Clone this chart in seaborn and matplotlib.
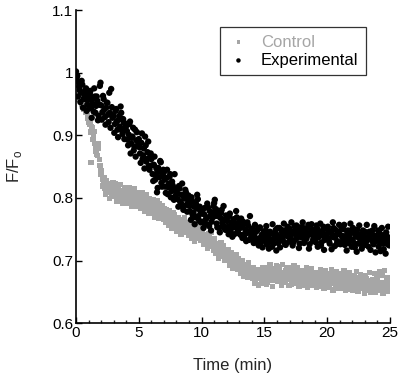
import numpy as np
import pandas as pd
import matplotlib
matplotlib.use("Agg")
import matplotlib.pyplot as plt
import seaborn as sns

# sampling times (min): two interleaved sets of readings
time_a = np.round(np.arange(0, 251) * 0.1, 2)
time_b = np.round(np.arange(0, 250) * 0.1 + 0.05, 2)

control_a = [
    0.985, 0.978, 0.969, 0.962, 0.971, 0.955, 0.948, 0.951, 0.939, 0.932,
    0.925, 0.918, 0.857, 0.912, 0.899, 0.887, 0.874, 0.868, 0.879, 0.852,
    0.838, 0.829, 0.822, 0.815, 0.826, 0.809, 0.818, 0.823, 0.811, 0.804,
    0.815, 0.808, 0.819, 0.801, 0.812, 0.806, 0.797, 0.811, 0.803, 0.814,
    0.808, 0.799, 0.806, 0.792, 0.803, 0.811, 0.796, 0.801, 0.789, 0.805,
    0.795, 0.801, 0.787, 0.798, 0.784, 0.792, 0.805, 0.786, 0.779, 0.794,
    0.791, 0.783, 0.776, 0.789, 0.781, 0.772, 0.786, 0.779, 0.771, 0.782,
    0.776, 0.768, 0.781, 0.764, 0.772, 0.759, 0.769, 0.763, 0.774, 0.757,
    0.765, 0.758, 0.753, 0.766, 0.749, 0.758, 0.762, 0.745, 0.755, 0.751,
    0.756, 0.748, 0.741, 0.752, 0.745, 0.738, 0.749, 0.743, 0.736, 0.747,
    0.744, 0.737, 0.729, 0.741, 0.733, 0.725, 0.738, 0.731, 0.722, 0.734,
    0.729, 0.721, 0.716, 0.727, 0.713, 0.722, 0.709, 0.718, 0.712, 0.705,
    0.714, 0.706, 0.699, 0.709, 0.702, 0.695, 0.703, 0.697, 0.691, 0.699,
    0.696, 0.688, 0.693, 0.684, 0.689, 0.681, 0.692, 0.678, 0.686, 0.681,
    0.685, 0.677, 0.682, 0.674, 0.679, 0.686, 0.671, 0.678, 0.668, 0.676,
    0.672, 0.679, 0.666, 0.674, 0.683, 0.686, 0.675, 0.681, 0.669, 0.684,
    0.678, 0.671, 0.685, 0.676, 0.668, 0.681, 0.674, 0.683, 0.670, 0.677,
    0.682, 0.673, 0.668, 0.679, 0.675, 0.684, 0.667, 0.674, 0.678, 0.671,
    0.676, 0.669, 0.681, 0.672, 0.664, 0.677, 0.671, 0.668, 0.679, 0.665,
    0.673, 0.668, 0.662, 0.675, 0.669, 0.682, 0.664, 0.671, 0.666, 0.674,
    0.668, 0.675, 0.661, 0.670, 0.664, 0.672, 0.677, 0.663, 0.669, 0.658,
    0.671, 0.665, 0.674, 0.659, 0.668, 0.662, 0.670, 0.666, 0.673, 0.660,
    0.667, 0.661, 0.672, 0.657, 0.665, 0.669, 0.659, 0.670, 0.663, 0.656,
    0.664, 0.671, 0.658, 0.667, 0.652, 0.662, 0.669, 0.660, 0.666, 0.655,
    0.668, 0.661, 0.679, 0.657, 0.665, 0.654, 0.663, 0.670, 0.659, 0.664,
    0.662,
]

control_b = [
    0.981, 0.973, 0.958, 0.966, 0.949, 0.962, 0.941, 0.936, 0.945, 0.927,
    0.921, 0.905, 0.914, 0.893, 0.906, 0.881, 0.869, 0.886, 0.861, 0.847,
    0.843, 0.819, 0.832, 0.806, 0.827, 0.814, 0.799, 0.821, 0.808, 0.824,
    0.802, 0.822, 0.795, 0.816, 0.799, 0.821, 0.806, 0.792, 0.817, 0.799,
    0.813, 0.791, 0.817, 0.798, 0.786, 0.809, 0.815, 0.793, 0.808, 0.787,
    0.802, 0.783, 0.808, 0.791, 0.779, 0.804, 0.796, 0.776, 0.798, 0.787,
    0.778, 0.797, 0.769, 0.786, 0.795, 0.767, 0.791, 0.774, 0.788, 0.766,
    0.783, 0.761, 0.775, 0.756, 0.779, 0.766, 0.752, 0.777, 0.761, 0.769,
    0.747, 0.768, 0.759, 0.742, 0.763, 0.751, 0.769, 0.746, 0.761, 0.741,
    0.742, 0.759, 0.736, 0.754, 0.731, 0.751, 0.739, 0.756, 0.744, 0.732,
    0.748, 0.726, 0.741, 0.736, 0.719, 0.743, 0.727, 0.745, 0.729, 0.717,
    0.735, 0.712, 0.726, 0.703, 0.719, 0.728, 0.706, 0.724, 0.701, 0.716,
    0.707, 0.718, 0.693, 0.712, 0.688, 0.708, 0.694, 0.710, 0.686, 0.703,
    0.691, 0.679, 0.699, 0.675, 0.694, 0.683, 0.673, 0.697, 0.677, 0.689,
    0.671, 0.689, 0.664, 0.686, 0.673, 0.661, 0.684, 0.670, 0.688, 0.663,
    0.681, 0.662, 0.689, 0.671, 0.693, 0.668, 0.659, 0.687, 0.676, 0.692,
    0.667, 0.690, 0.673, 0.661, 0.694, 0.678, 0.665, 0.689, 0.672, 0.660,
    0.688, 0.662, 0.681, 0.692, 0.664, 0.677, 0.689, 0.659, 0.684, 0.668,
    0.661, 0.684, 0.667, 0.689, 0.658, 0.681, 0.663, 0.687, 0.660, 0.676,
    0.681, 0.657, 0.677, 0.664, 0.686, 0.659, 0.678, 0.655, 0.683, 0.662,
    0.657, 0.679, 0.664, 0.685, 0.653, 0.673, 0.660, 0.682, 0.655, 0.674,
    0.679, 0.655, 0.668, 0.683, 0.652, 0.675, 0.661, 0.681, 0.654, 0.672,
    0.653, 0.676, 0.660, 0.682, 0.651, 0.672, 0.678, 0.655, 0.669, 0.648,
    0.675, 0.652, 0.668, 0.681, 0.649, 0.666, 0.657, 0.679, 0.650, 0.671,
    0.653, 0.682, 0.660, 0.676, 0.648, 0.684, 0.656, 0.673, 0.651, 0.669,
]

experimental_a = [
    1.002, 0.995, 0.985, 0.972, 0.968, 0.981, 0.958, 0.962, 0.975, 0.949,
    0.957, 0.966, 0.944, 0.951, 0.938, 0.962, 0.947, 0.955, 0.931, 0.979,
    0.948, 0.937, 0.958, 0.929, 0.944, 0.952, 0.921, 0.936, 0.974, 0.928,
    0.931, 0.918, 0.942, 0.909, 0.925, 0.914, 0.936, 0.902, 0.921, 0.911,
    0.915, 0.893, 0.901, 0.922, 0.887, 0.898, 0.876, 0.909, 0.892, 0.883,
    0.894, 0.871, 0.888, 0.862, 0.879, 0.898, 0.858, 0.873, 0.851, 0.866,
    0.862, 0.838, 0.853, 0.829, 0.847, 0.816, 0.842, 0.859, 0.824, 0.836,
    0.841, 0.818, 0.832, 0.806, 0.823, 0.838, 0.811, 0.820, 0.797, 0.815,
    0.812, 0.798, 0.819, 0.794, 0.805, 0.786, 0.801, 0.813, 0.789, 0.797,
    0.792, 0.778, 0.801, 0.772, 0.786, 0.769, 0.783, 0.798, 0.764, 0.779,
    0.781, 0.762, 0.774, 0.758, 0.769, 0.785, 0.755, 0.771, 0.762, 0.777,
    0.792, 0.771, 0.759, 0.776, 0.752, 0.768, 0.781, 0.757, 0.765, 0.749,
    0.768, 0.754, 0.771, 0.746, 0.759, 0.763, 0.742, 0.757, 0.769, 0.748,
    0.758, 0.741, 0.753, 0.762, 0.737, 0.749, 0.744, 0.756, 0.733, 0.748,
    0.751, 0.736, 0.742, 0.729, 0.747, 0.735, 0.752, 0.728, 0.741, 0.733,
    0.739, 0.748, 0.726, 0.737, 0.744, 0.731, 0.722, 0.742, 0.735, 0.749,
    0.741, 0.728, 0.752, 0.736, 0.745, 0.731, 0.748, 0.725, 0.739, 0.746,
    0.751, 0.734, 0.743, 0.729, 0.755, 0.741, 0.736, 0.748, 0.727, 0.744,
    0.738, 0.752, 0.731, 0.745, 0.739, 0.757, 0.726, 0.742, 0.749, 0.735,
    0.743, 0.729, 0.751, 0.737, 0.746, 0.724, 0.740, 0.754, 0.733, 0.741,
    0.736, 0.748, 0.727, 0.744, 0.738, 0.752, 0.723, 0.740, 0.731, 0.746,
    0.742, 0.729, 0.737, 0.750, 0.725, 0.739, 0.745, 0.728, 0.736, 0.748,
    0.733, 0.744, 0.721, 0.738, 0.749, 0.727, 0.735, 0.742, 0.724, 0.739,
    0.746, 0.730, 0.737, 0.722, 0.741, 0.733, 0.748, 0.726, 0.739, 0.731,
    0.735, 0.722, 0.743, 0.729, 0.738, 0.718, 0.733, 0.745, 0.726, 0.736,
    0.730,
]

experimental_b = [
    0.991, 0.962, 0.978, 0.953, 0.987, 0.944, 0.969, 0.958, 0.939, 0.966,
    0.943, 0.971, 0.928, 0.959, 0.975, 0.936, 0.962, 0.924, 0.949, 0.984,
    0.925, 0.963, 0.941, 0.917, 0.952, 0.933, 0.968, 0.912, 0.945, 0.930,
    0.904, 0.939, 0.922, 0.897, 0.931, 0.946, 0.908, 0.926, 0.894, 0.918,
    0.907, 0.884, 0.918, 0.871, 0.896, 0.912, 0.882, 0.866, 0.905, 0.889,
    0.881, 0.856, 0.903, 0.868, 0.847, 0.884, 0.862, 0.890, 0.845, 0.871,
    0.852, 0.827, 0.866, 0.838, 0.809, 0.848, 0.833, 0.857, 0.818, 0.845,
    0.829, 0.808, 0.845, 0.817, 0.834, 0.801, 0.826, 0.812, 0.838, 0.804,
    0.808, 0.786, 0.815, 0.792, 0.823, 0.781, 0.799, 0.809, 0.778, 0.804,
    0.787, 0.765, 0.795, 0.776, 0.758, 0.791, 0.805, 0.771, 0.786, 0.761,
    0.775, 0.752, 0.784, 0.766, 0.791, 0.757, 0.779, 0.748, 0.768, 0.787,
    0.797, 0.782, 0.753, 0.771, 0.745, 0.776, 0.761, 0.787, 0.751, 0.772,
    0.763, 0.742, 0.775, 0.751, 0.738, 0.766, 0.753, 0.779, 0.744, 0.761,
    0.752, 0.767, 0.736, 0.758, 0.743, 0.731, 0.761, 0.746, 0.771, 0.739,
    0.745, 0.728, 0.757, 0.734, 0.749, 0.724, 0.753, 0.738, 0.721, 0.746,
    0.731, 0.755, 0.741, 0.719, 0.746, 0.733, 0.758, 0.727, 0.744, 0.716,
    0.752, 0.735, 0.721, 0.749, 0.738, 0.759, 0.726, 0.743, 0.754, 0.730,
    0.738, 0.761, 0.724, 0.747, 0.733, 0.756, 0.741, 0.720, 0.753, 0.737,
    0.761, 0.728, 0.746, 0.735, 0.752, 0.719, 0.744, 0.758, 0.731, 0.749,
    0.735, 0.756, 0.722, 0.744, 0.759, 0.729, 0.748, 0.717, 0.751, 0.738,
    0.754, 0.731, 0.745, 0.718, 0.761, 0.737, 0.749, 0.726, 0.743, 0.757,
    0.726, 0.751, 0.739, 0.757, 0.732, 0.716, 0.748, 0.740, 0.759, 0.722,
    0.752, 0.728, 0.745, 0.714, 0.741, 0.756, 0.730, 0.719, 0.748, 0.734,
    0.725, 0.757, 0.738, 0.746, 0.717, 0.743, 0.729, 0.755, 0.713, 0.740,
    0.748, 0.731, 0.715, 0.752, 0.727, 0.741, 0.711, 0.739, 0.754, 0.724,
]

series_names = ["Control", "Experimental"]
series_colors = ["#a6a6a6", "#000000"]
x_ticks = [0, 5, 10, 15, 20, 25]
y_ticks = [0.6, 0.7, 0.8, 0.9, 1.0, 1.1]
y_tick_labels = ["0.6", "0.7", "0.8", "0.9", "1", "1.1"]

df_control = pd.DataFrame({"t": np.concatenate([time_a, time_b]),
                           "v": control_a + control_b})
df_exp = pd.DataFrame({"t": np.concatenate([time_a, time_b]),
                       "v": experimental_a + experimental_b})

sns.set_theme(style="ticks")
plt.rcParams["font.family"] = ["Liberation Sans", "DejaVu Sans"]

fig = plt.figure(figsize=(4.0, 3.74), dpi=100)
ax = fig.add_axes([0.19, 0.136, 0.785, 0.837])

sns.scatterplot(data=df_control, x="t", y="v", ax=ax,
                marker="s", s=15, color=series_colors[0], edgecolor="none",
                linewidth=0, label=series_names[0])
sns.scatterplot(data=df_exp, x="t", y="v", ax=ax,
                marker="o", s=21, color=series_colors[1], edgecolor="none",
                linewidth=0, label=series_names[1])

ax.set_xlim(0, 25)
ax.set_ylim(0.6, 1.1)
ax.set_xticks(x_ticks)
ax.set_xticklabels([str(v) for v in x_ticks])
ax.set_xticks(np.arange(1, 25), minor=True)
ax.set_yticks(y_ticks)
ax.set_yticklabels(y_tick_labels)
ax.tick_params(axis="both", which="major", direction="in", length=4,
               width=1, labelsize=11, pad=2, colors="black")
ax.tick_params(axis="x", which="minor", direction="in", length=2.5, width=1)
for s in ["top", "right"]:
    ax.spines[s].set_visible(False)
for s in ["left", "bottom"]:
    ax.spines[s].set_linewidth(1.2)
    ax.spines[s].set_color("black")

ax.set_xlabel("Time (min)", fontsize=12, labelpad=13)
ax.set_ylabel(r"F/F$_\mathregular{o}$", fontsize=12, labelpad=20)

leg = ax.legend(loc="upper left", bbox_to_anchor=(0.459, 0.946), frameon=True,
                fancybox=False, edgecolor="black", fontsize=12,
                markerscale=0.7, handletextpad=0.7, borderpad=0.45,
                labelspacing=0.2, handlelength=1.3, borderaxespad=0)
leg.get_frame().set_linewidth(0.9)
for txt, c in zip(leg.get_texts(), series_colors):
    txt.set_color(c)

fig.savefig("out.png", dpi=100)
